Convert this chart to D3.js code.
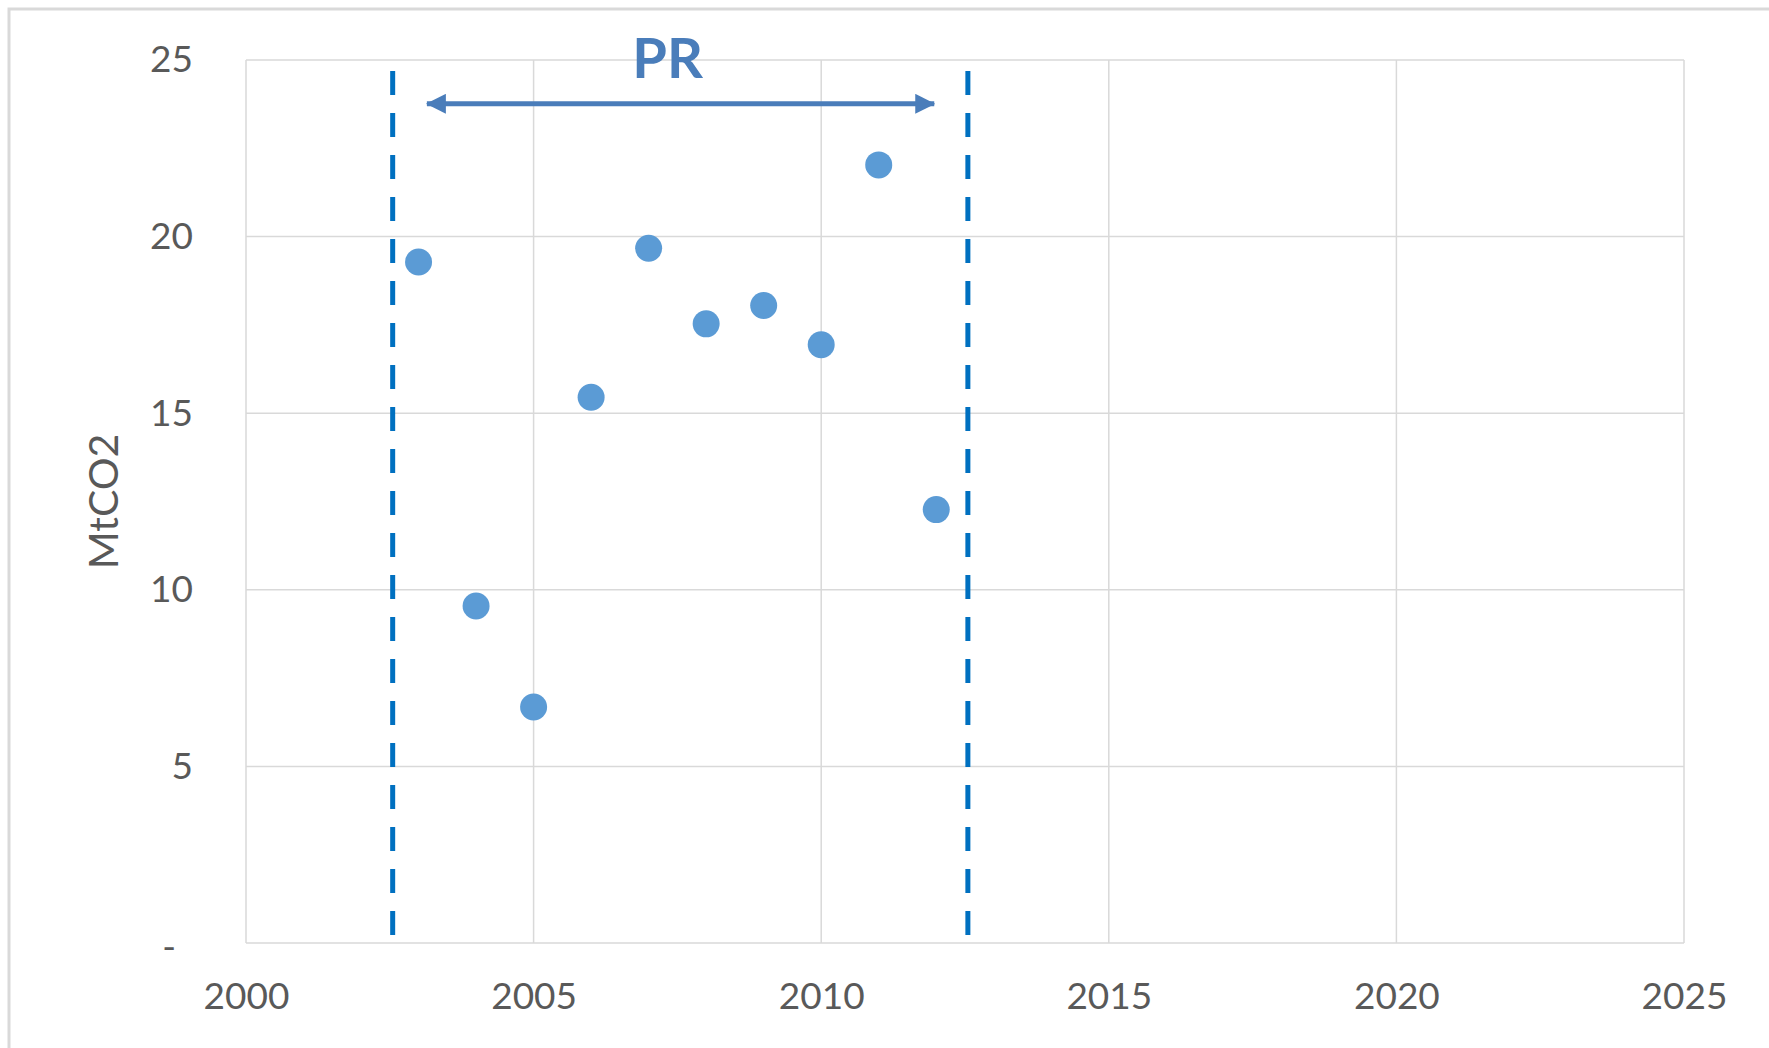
<!DOCTYPE html>
<html>
<head>
<meta charset="utf-8">
<script src="https://cdn.jsdelivr.net/npm/d3@7"></script>
<style>
  body { margin: 0; background: #fff; }
  svg { display: block; }
  .tick text { font-family: Lato, "Open Sans", sans-serif; fill: #595959; }
</style>
</head>
<body>
<div id="chart"></div>
<script>
// emissions by year (MtCO2)
var years = [2003, 2004, 2005, 2006, 2007, 2008, 2009, 2010, 2011, 2012]
var emissions = [19.28, 9.54, 6.68, 15.45, 19.67, 17.53, 18.05, 16.94, 22.03, 12.27]

var xTicks = [2000, 2005, 2010, 2015, 2020, 2025]
var yTicks = [0, 5, 10, 15, 20, 25]

// period marked "PR" on the chart
var periodBounds = [2002.55, 2012.55]
var arrowSpan = [2003.11, 2012.0]
var arrowLevel = 23.76
var periodLabel = "PR"

var width = 1769
var height = 1048
var margin = { top: 60, right: 85, bottom: 105, left: 246 }

var svg = d3.select("#chart").append("svg")
  .attr("width", width)
  .attr("height", height)

// outer frame, only top and left edges fall inside the picture
svg.append("rect")
  .attr("x", 9).attr("y", 9)
  .attr("width", width + 20).attr("height", height + 20)
  .attr("fill", "none")
  .attr("stroke", "#d9d9d9")
  .attr("stroke-width", 3)

var x = d3.scaleLinear().domain([2000, 2025]).range([margin.left, width - margin.right])
var y = d3.scaleLinear().domain([0, 25]).range([height - margin.bottom, margin.top])

var grid = svg.append("g").attr("class", "grid")

grid.selectAll(".hline")
  .data(yTicks)
  .enter()
  .append("line")
  .attr("x1", x(2000)).attr("x2", x(2025))
  .attr("y1", d => y(d)).attr("y2", d => y(d))
  .attr("stroke", "#d9d9d9")
  .attr("stroke-width", 1.5)

grid.selectAll(".vline")
  .data(xTicks)
  .enter()
  .append("line")
  .attr("x1", d => x(d)).attr("x2", d => x(d))
  .attr("y1", y(0)).attr("y2", y(25))
  .attr("stroke", "#d9d9d9")
  .attr("stroke-width", 1.5)

var yAxis = d3.axisLeft(y)
  .tickValues(yTicks)
  .tickSize(0)
  .tickPadding(53)
  .tickFormat(d => d === 0 ? "-" : d)

var xAxis = d3.axisBottom(x)
  .tickValues(xTicks)
  .tickSize(0)
  .tickPadding(40)
  .tickFormat(d3.format("d"))

var gy = svg.append("g").attr("transform", "translate(" + x(2000) + ",0)").call(yAxis)
var gx = svg.append("g").attr("transform", "translate(0," + y(0) + ")").call(xAxis)

gy.select(".domain").remove()
gx.select(".domain").remove()
gy.selectAll("text").style("font-size", "37px")
gx.selectAll("text").style("font-size", "37px")
// the zero label is a dash set in a bit from the others
gy.selectAll(".tick").filter(d => d === 0).select("text").attr("dx", -17).attr("dy", "0.45em")

svg.append("text")
  .attr("transform", "translate(102," + (y(0) + y(25)) / 2 + ") rotate(-90)")
  .attr("text-anchor", "middle")
  .attr("dominant-baseline", "central")
  .style("font-family", "Lato, 'Open Sans', sans-serif")
  .style("font-size", "41px")
  .style("fill", "#595959")
  .text("MtCO2")

// dashed period bounds
svg.selectAll(".bound")
  .data(periodBounds)
  .enter()
  .append("line")
  .attr("class", "bound")
  .attr("x1", d => x(d)).attr("x2", d => x(d))
  .attr("y1", 71).attr("y2", y(0) - 6)
  .attr("stroke", "#0070c0")
  .attr("stroke-width", 5)
  .attr("stroke-dasharray", "24,18")

// double headed arrow
var defs = svg.append("defs")
function arrowHead(id, orient) {
  defs.append("marker")
    .attr("id", id)
    .attr("viewBox", "0 0 20 20")
    .attr("refX", 19).attr("refY", 10)
    .attr("markerWidth", 20).attr("markerHeight", 20)
    .attr("markerUnits", "userSpaceOnUse")
    .attr("orient", orient)
    .append("path")
    .attr("d", "M0,0 L20,10 L0,20 Z")
    .attr("fill", "#4a7dba")
}
arrowHead("headEnd", "auto")
arrowHead("headStart", "auto-start-reverse")

svg.append("line")
  .attr("x1", x(arrowSpan[0]) + 2).attr("x2", x(arrowSpan[1]) - 2)
  .attr("y1", y(arrowLevel)).attr("y2", y(arrowLevel))
  .attr("stroke", "#4a7dba")
  .attr("stroke-width", 5)
  .attr("marker-start", "url(#headStart)")
  .attr("marker-end", "url(#headEnd)")

svg.append("text")
  .attr("x", x(d3.mean(arrowSpan)) - 13)
  .attr("y", y(25.1))
  .attr("text-anchor", "middle")
  .attr("dominant-baseline", "central")
  .style("font-family", "Lato, 'Open Sans', sans-serif")
  .style("font-weight", "bold")
  .style("font-size", "56px")
  .style("fill", "#4a7dba")
  .text(periodLabel)

// points
svg.selectAll(".dot")
  .data(years.map((yr, i) => ({ year: yr, value: emissions[i] })))
  .enter()
  .append("circle")
  .attr("class", "dot")
  .attr("cx", d => x(d.year))
  .attr("cy", d => y(d.value))
  .attr("r", 13.5)
  .attr("fill", "#5b9bd5")
</script>
</body>
</html>
